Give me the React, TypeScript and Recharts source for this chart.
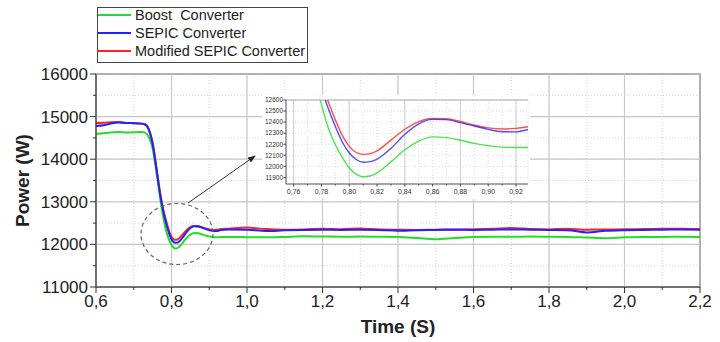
import React from "react";
import {
  LineChart,
  Line,
  XAxis,
  YAxis,
  CartesianGrid,
  ReferenceLine,
  ReferenceArea,
  Label,
} from "recharts";

// time axis (s) and power (W) for the three converters
const time = [
  0.6, 0.62, 0.64, 0.66, 0.68, 0.7, 0.72,
  0.73, 0.74, 0.75, 0.76, 0.77,
  0.775, 0.78, 0.785, 0.79, 0.795, 0.8, 0.805, 0.81, 0.815, 0.82,
  0.83, 0.84, 0.85, 0.86, 0.87, 0.88, 0.89, 0.9, 0.91, 0.92, 0.93,
  0.95,
  1.0, 1.05, 1.1, 1.15, 1.2, 1.25, 1.3, 1.35, 1.4, 1.45, 1.5, 1.55, 1.6,
  1.65, 1.7, 1.75, 1.8, 1.85, 1.9, 1.95, 2.0, 2.05, 2.1, 2.15, 2.2,
];

const boost = [
  14590, 14610, 14625, 14640, 14625, 14630, 14640,
  14625, 14520, 14250, 13700, 13080,
  12800, 12560, 12345, 12195, 12080, 11985, 11930, 11906, 11912, 11940,
  12040, 12150, 12228, 12266, 12260, 12236, 12207, 12187, 12174, 12170, 12171,
  12175,
  12170, 12165, 12175, 12190, 12185, 12180, 12185, 12180, 12175, 12150, 12120, 12150, 12175,
  12180, 12180, 12185, 12180, 12175, 12160, 12145, 12165, 12175, 12175, 12180, 12175,
];

const sepic = [
  14780, 14795, 14840, 14860, 14850, 14845, 14835,
  14815, 14690, 14370, 13780, 13170,
  12920, 12700, 12520, 12360, 12220, 12120, 12062, 12037, 12042, 12065,
  12162, 12290, 12385, 12425, 12422, 12395, 12365, 12334, 12313, 12312, 12336,
  12350,
  12345, 12315, 12330, 12340, 12345, 12340, 12345, 12340, 12320, 12335, 12340, 12345, 12340,
  12345, 12350, 12345, 12340, 12335, 12280, 12320, 12335, 12340, 12345, 12350, 12345,
];

const modifiedSepic = [
  14850, 14855, 14870, 14875, 14850, 14845, 14835,
  14820, 14700, 14380, 13800, 13200,
  12950, 12750, 12580, 12420, 12280, 12180, 12125, 12108, 12115, 12140,
  12237, 12335, 12405, 12433, 12430, 12405, 12372, 12348, 12338, 12343, 12360,
  12370,
  12395, 12360, 12345, 12350, 12370, 12355, 12375, 12350, 12345, 12340, 12345, 12350, 12355,
  12365, 12385, 12360, 12350, 12370, 12345, 12350, 12355, 12360, 12365, 12370, 12360,
];

const xTicks = [0.6, 0.7, 0.8, 0.9, 1.0, 1.1, 1.2, 1.3, 1.4, 1.5, 1.6, 1.7, 1.8, 1.9, 2.0, 2.1, 2.2];
const xMajor = [0.6, 0.8, 1.0, 1.2, 1.4, 1.6, 1.8, 2.0, 2.2];
const yTicks = [11000, 11500, 12000, 12500, 13000, 13500, 14000, 14500, 15000, 15500, 16000];
const yMajor = [11000, 12000, 13000, 14000, 15000, 16000];

const zoomXTicks = [0.76, 0.77, 0.78, 0.79, 0.8, 0.81, 0.82, 0.83, 0.84, 0.85, 0.86, 0.87, 0.88, 0.89, 0.9, 0.91, 0.92];
const zoomXMajor = [0.76, 0.8, 0.84, 0.88, 0.92];
const zoomYTicks = [11900, 12000, 12100, 12200, 12300, 12400, 12500, 12600];

const series = [
  { key: "boost", name: "Boost  Converter", color: "#22dd22" },
  { key: "sepic", name: "SEPIC Converter", color: "#2222ff" },
  { key: "modified", name: "Modified SEPIC Converter", color: "#ff2222" },
];
// blue is drawn last, like in the original plot
const drawOrder = ["boost", "modified", "sepic"];

const data = time.map((t, i) => ({
  t,
  boost: boost[i],
  sepic: sepic[i],
  modified: modifiedSepic[i],
}));

const FONT = "'Liberation Sans', Arial, sans-serif";
const colorOf = (k: string) => series.find((s) => s.key === k)!.color;

function MainXTick({ x, y, payload }: any) {
  const v = payload.value as number;
  const major = Math.round(v * 10) % 2 === 0;
  const y0 = y - 8;
  return (
    <g>
      <line x1={x} x2={x} y1={y0} y2={y0 + (major ? 6 : 3)} stroke="#333" />
      {major && (
        <text x={x} y={y} dy="0.71em" textAnchor="middle" fontSize={17} fill="#222" fontFamily={FONT}>
          {v.toFixed(1).replace(".", ",")}
        </text>
      )}
    </g>
  );
}

function MainYTick({ x, y, payload }: any) {
  const v = payload.value as number;
  const major = v % 1000 === 0;
  const x0 = x + 8;
  return (
    <g>
      <line x1={x0} x2={x0 - (major ? 6 : 3)} y1={y} y2={y} stroke="#333" />
      {major && (
        <text x={x} y={y} dy="0.355em" textAnchor="end" fontSize={17} fill="#222" fontFamily={FONT}>
          {v}
        </text>
      )}
    </g>
  );
}

function ZoomXTick({ x, y, payload }: any) {
  const v = payload.value as number;
  const major = Math.round(v * 100) % 2 === 0;
  const y0 = y - 5;
  return (
    <g>
      <line x1={x} x2={x} y1={y0} y2={y0 + (major ? 2.5 : 1.5)} stroke="#444" />
      {major && (
        <text x={x} y={y} dy="0.71em" textAnchor="middle" fontSize={7} fill="#333" fontFamily={FONT}>
          {v.toFixed(2).replace(".", ",")}
        </text>
      )}
    </g>
  );
}

function ZoomYTick({ x, y, payload }: any) {
  const x0 = x + 3;
  return (
    <g>
      <line x1={x0} x2={x0 - 2.5} y1={y} y2={y} stroke="#444" />
      <text x={x} y={y} dy="0.355em" textAnchor="end" fontSize={6.5} fill="#333" fontFamily={FONT}>
        {payload.value}
      </text>
    </g>
  );
}

function Legend() {
  return (
    <div
      style={{
        position: "absolute",
        left: 97,
        top: 7,
        width: 211,
        height: 56,
        boxSizing: "border-box",
        border: "1.5px solid #444",
        background: "#fff",
        fontFamily: FONT,
        fontSize: 14.5,
        color: "#222",
      }}
    >
      <div style={{ marginTop: -2 }}>
        {series.map((s) => (
          <div key={s.key} style={{ display: "flex", alignItems: "center", height: 18 }}>
            <div style={{ width: 33, height: 2, background: s.color, marginRight: 4 }} />
            <span style={{ whiteSpace: "pre", lineHeight: "18px" }}>{s.name}</span>
          </div>
        ))}
      </div>
    </div>
  );
}

export default function App() {
  return (
    <div style={{ position: "fixed", left: 0, top: 0, width: 720, height: 342, background: "#fff" }}>
      <LineChart width={720} height={342} data={data} margin={{ top: 74, right: 20, bottom: 0, left: 0 }}>
        <CartesianGrid stroke="#d4d4d4" strokeDasharray="1 2" />
        {xMajor.map((v) => (
          <ReferenceLine key={`vx${v}`} x={v} stroke="#c8c8c8" strokeWidth={1.2} />
        ))}
        {yMajor.map((v) => (
          <ReferenceLine key={`hy${v}`} y={v} stroke="#c8c8c8" strokeWidth={1.2} />
        ))}
        <XAxis
          dataKey="t"
          type="number"
          domain={[0.6, 2.2]}
          ticks={xTicks}
          interval={0}
          height={55}
          tickSize={6}
          tickMargin={2}
          tickLine={false}
          tick={<MainXTick />}
          axisLine={{ stroke: "#333" }}
        >
          <Label value="Time (S)" position="insideBottom" offset={9} fontSize={19} fontWeight="bold" fill="#222" fontFamily={FONT} />
        </XAxis>
        <YAxis
          type="number"
          domain={[11000, 16000]}
          ticks={yTicks}
          interval={0}
          width={96}
          tickSize={6}
          tickMargin={2}
          tickLine={false}
          tick={<MainYTick />}
          axisLine={{ stroke: "#333" }}
        >
          <Label value="Power (W)" angle={-90} position="center" dx={-26} fontSize={19} fontWeight="bold" fill="#222" fontFamily={FONT} />
        </YAxis>
        {drawOrder.map((k) => (
          <Line
            key={k}
            dataKey={k}
            type="monotone"
            stroke={colorOf(k)}
            strokeWidth={2}
            dot={false}
            isAnimationActive={false}
          />
        ))}
        <ReferenceArea x1={0.6} x2={2.2} y1={11000} y2={16000} fill="none" stroke="#444" strokeWidth={1.2} />
      </LineChart>

      <svg width={720} height={342} style={{ position: "absolute", left: 0, top: 0, pointerEvents: "none" }}>
        <defs>
          <marker id="arrowHead" markerWidth="8" markerHeight="6" refX="7" refY="3" orient="auto" markerUnits="userSpaceOnUse">
            <path d="M0,0 L8,3 L0,6 z" fill="#222" />
          </marker>
        </defs>
        <ellipse cx={177} cy={234} rx={36} ry={30.5} fill="none" stroke="#666" strokeWidth={1.2} strokeDasharray="4 3" />
        <line x1={188} y1={203} x2={255} y2={156} stroke="#333" strokeWidth={1} markerEnd="url(#arrowHead)" />
      </svg>

      <div style={{ position: "absolute", left: 262, top: 95, width: 268, height: 104, background: "#fff" }}>
        <LineChart width={268} height={104} data={data} margin={{ top: 5, right: 2, bottom: 2, left: 0 }}>
          <CartesianGrid stroke="#dcdcdc" strokeDasharray="1 2" />
          {zoomXMajor.map((v) => (
            <ReferenceLine key={`zx${v}`} x={v} stroke="#cfcfcf" />
          ))}
          <ReferenceLine y={12600} stroke="#aaa" />
          <XAxis
            dataKey="t"
            type="number"
            domain={[0.7545, 0.9286]}
            allowDataOverflow
            ticks={zoomXTicks}
            interval={0}
            height={13}
            tickSize={2}
            tickMargin={3}
            tickLine={false}
            tick={<ZoomXTick />}
            axisLine={{ stroke: "#555" }}
          />
          <YAxis
            type="number"
            domain={[11840, 12600]}
            allowDataOverflow
            ticks={zoomYTicks}
            interval={0}
            width={24}
            tickSize={2}
            tickMargin={1}
            tickLine={false}
            tick={<ZoomYTick />}
            axisLine={{ stroke: "#555" }}
          />
          {drawOrder.map((k) => (
            <Line
              key={k}
              dataKey={k}
              type="monotone"
              stroke={colorOf(k)}
              strokeOpacity={0.8}
              strokeWidth={1.4}
              dot={false}
              isAnimationActive={false}
            />
          ))}
        </LineChart>
      </div>

      <Legend />
    </div>
  );
}
